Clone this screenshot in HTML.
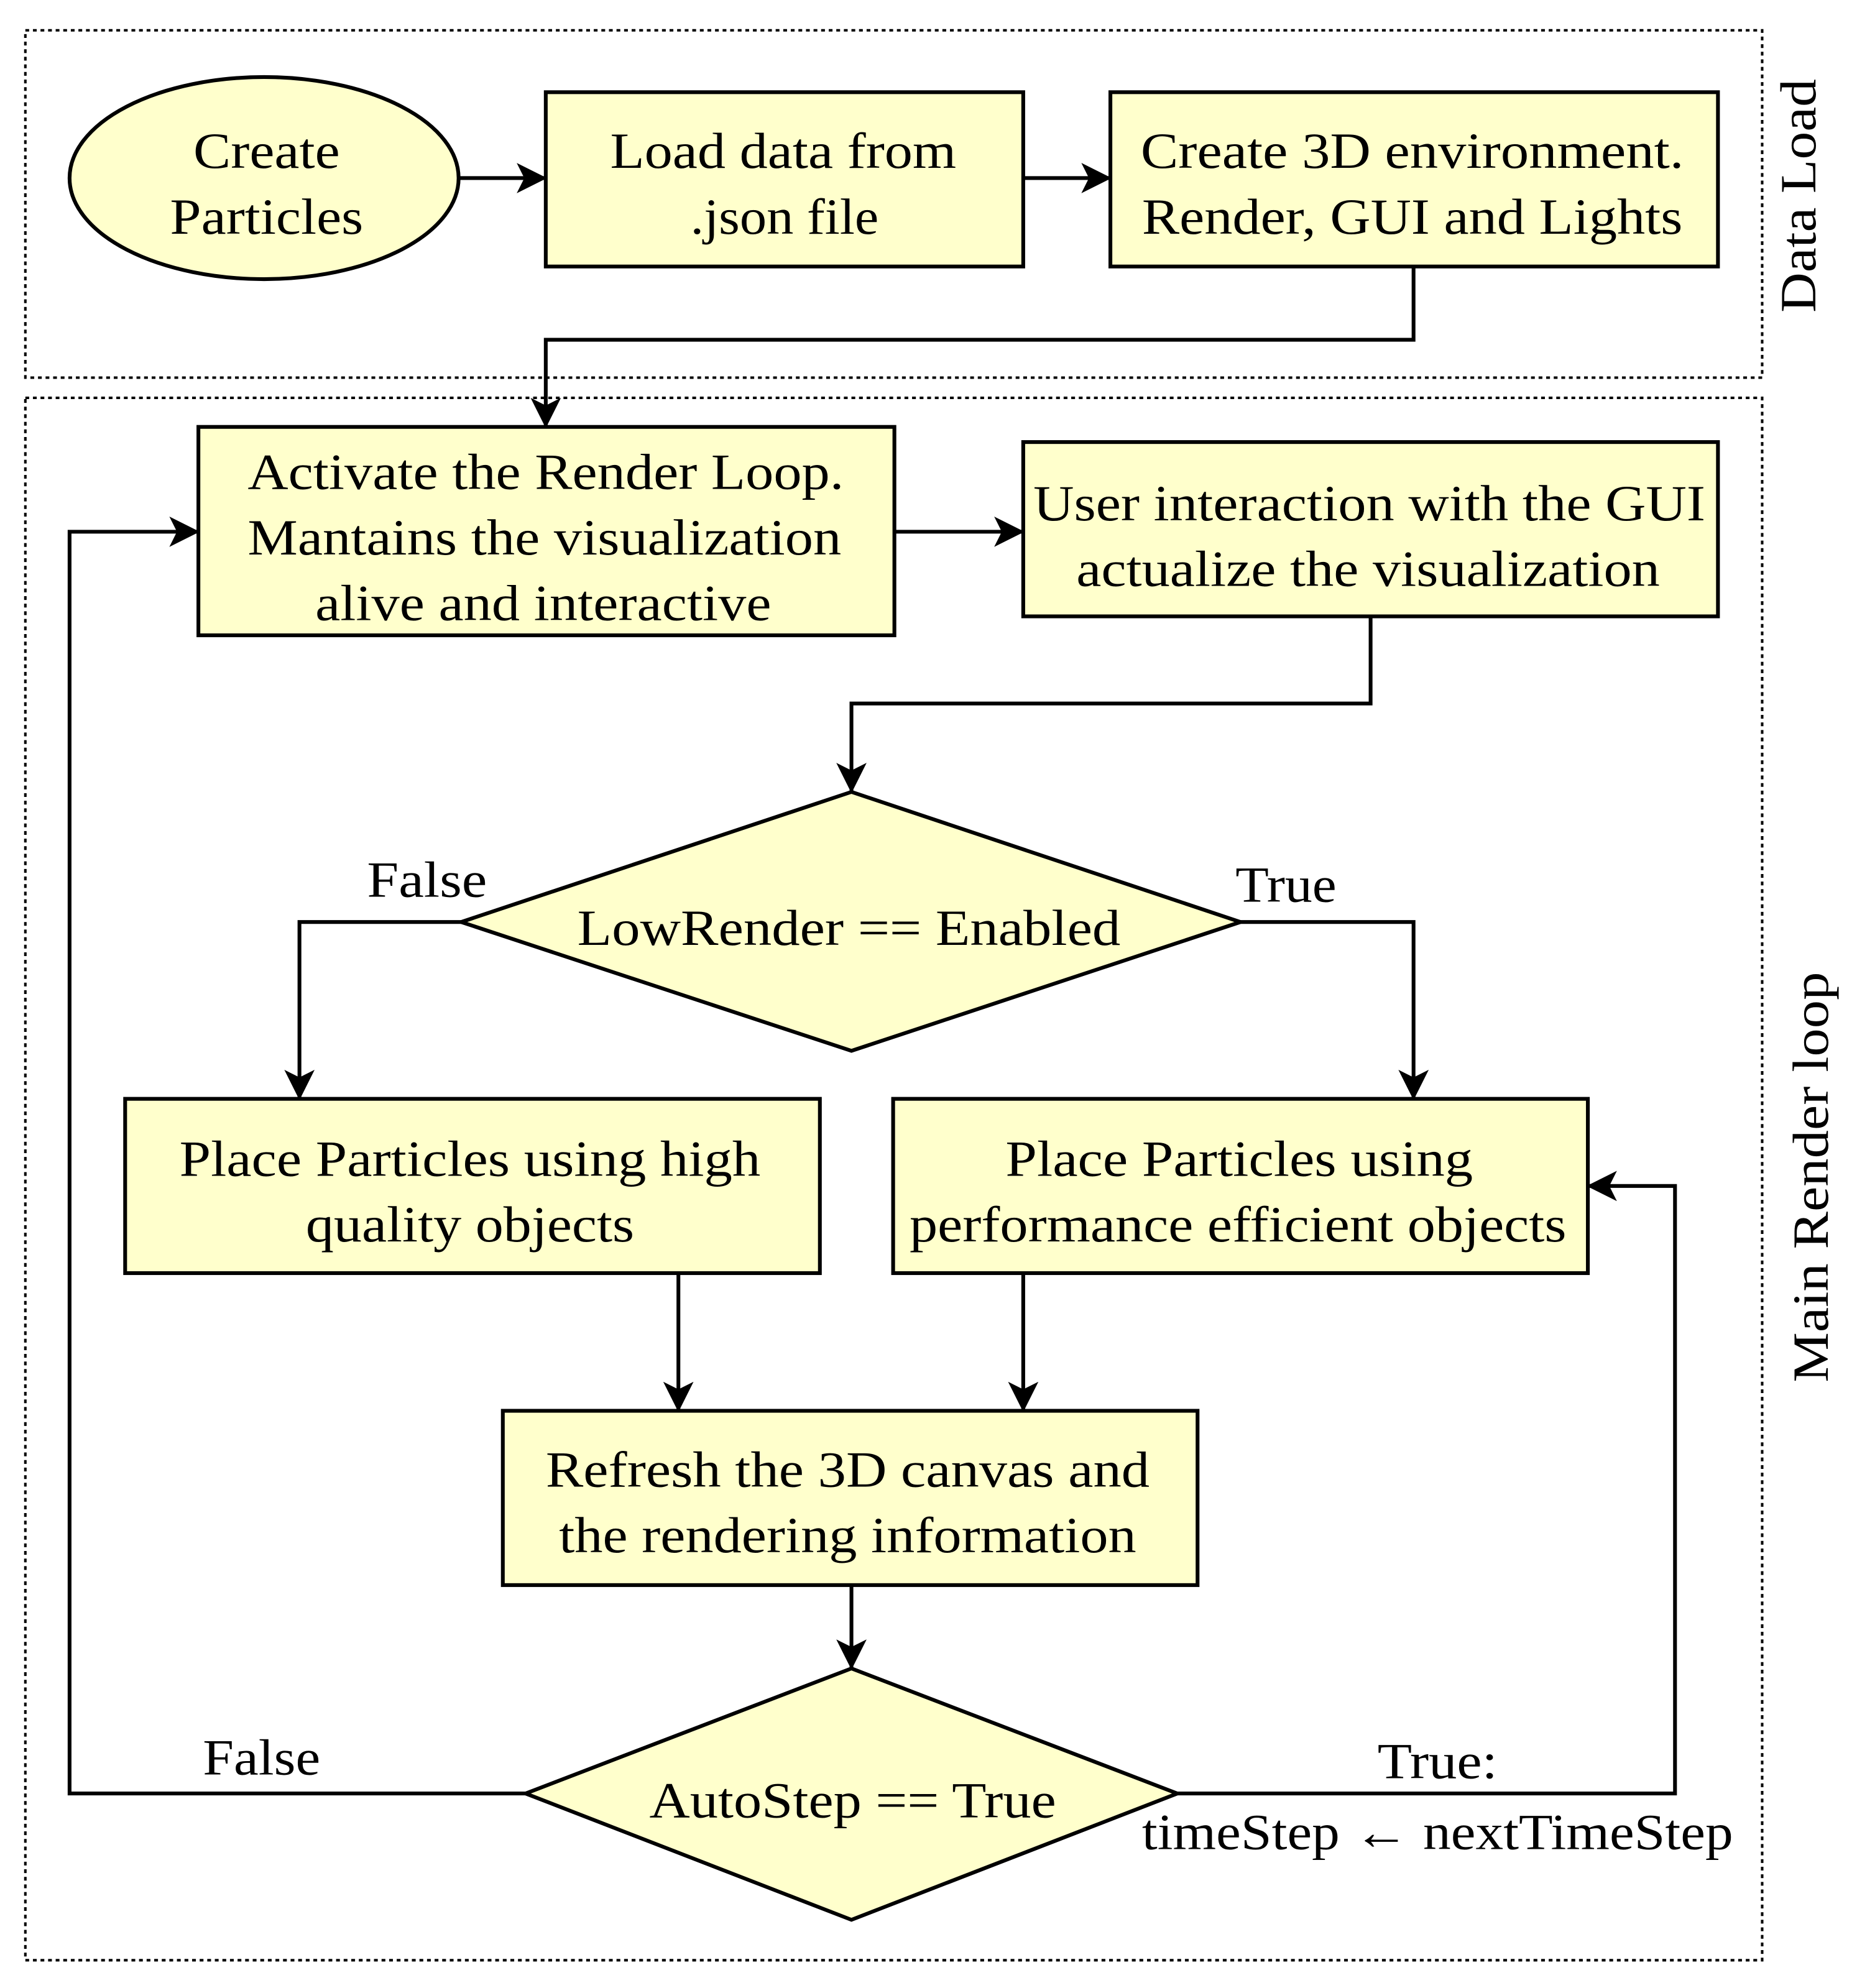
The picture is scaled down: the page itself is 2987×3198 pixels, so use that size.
<!DOCTYPE html>
<html><head><meta charset="utf-8"><style>
html,body{margin:0;padding:0;background:#fff;}
svg{display:block;}
text{font-family:"Liberation Serif","Times New Roman",serif;fill:#000;}
</style></head><body>
<svg width="2987" height="3198" viewBox="0 0 1470 1574" xmlns="http://www.w3.org/2000/svg">
<defs>
<marker id="ah" viewBox="0 0 24 24" refX="23" refY="12" markerWidth="24" markerHeight="24" markerUnits="userSpaceOnUse" orient="auto">
<path d="M0,0 L24,12 L0,24 L6,12 Z" fill="#000"/>
</marker>
</defs>
<rect width="1470" height="1574" fill="#fff"/>
<g fill="none" stroke="#000" stroke-width="2" stroke-dasharray="3,3">
<rect x="20" y="24" width="1375" height="275"/>
<rect x="20" y="315" width="1375" height="1237"/>
</g>
<g fill="#ffffcc" stroke="#000" stroke-width="3">
<ellipse cx="209" cy="141" rx="154" ry="80"/>
<rect x="432" y="73" width="378" height="138"/>
<rect x="879" y="73" width="481" height="138"/>
<rect x="157" y="338" width="551" height="165"/>
<rect x="810" y="350" width="550" height="138"/>
<polygon points="674,627 982,730 674,832 365,730"/>
<rect x="99" y="870" width="550" height="138"/>
<rect x="707" y="870" width="550" height="138"/>
<rect x="398" y="1117" width="550" height="138"/>
<polygon points="674,1321 932,1420 674,1520 416,1420"/>
</g>
<g fill="none" stroke="#000" stroke-width="3" marker-end="url(#ah)">
<path d="M363,141 H432"/>
<path d="M810,141 H879"/>
<path d="M1119,211 V269 H432 V338"/>
<path d="M708,421 H810"/>
<path d="M1085,488 V557 H674 V627"/>
<path d="M365,730 H237 V870"/>
<path d="M982,730 H1119 V870"/>
<path d="M537,1008 V1117"/>
<path d="M810,1008 V1117"/>
<path d="M674,1255 V1321"/>
<path d="M416,1420 H55 V421 H157"/>
<path d="M932,1420 H1326 V939 H1257"/>
</g>
<g font-size="40" text-anchor="middle" lengthAdjust="spacingAndGlyphs">
<text x="211" y="133" textLength="116" lengthAdjust="spacingAndGlyphs">Create</text>
<text x="211" y="185" textLength="153" lengthAdjust="spacingAndGlyphs">Particles</text>
<text x="620" y="133" textLength="274" lengthAdjust="spacingAndGlyphs">Load data from</text>
<text x="621" y="185" textLength="149" lengthAdjust="spacingAndGlyphs">.json file</text>
<text x="1118" y="133" textLength="430" lengthAdjust="spacingAndGlyphs">Create 3D environment.</text>
<text x="1118" y="185" textLength="428" lengthAdjust="spacingAndGlyphs">Render, GUI and Lights</text>
<text x="432" y="387" textLength="472" lengthAdjust="spacingAndGlyphs">Activate the Render Loop.</text>
<text x="431" y="439" textLength="470" lengthAdjust="spacingAndGlyphs">Mantains the visualization</text>
<text x="430" y="491" textLength="361" lengthAdjust="spacingAndGlyphs">alive and interactive</text>
<text x="1084" y="412" textLength="532" lengthAdjust="spacingAndGlyphs">User interaction with the GUI</text>
<text x="1083" y="464" textLength="462" lengthAdjust="spacingAndGlyphs">actualize the visualization</text>
<text x="672" y="748" textLength="430" lengthAdjust="spacingAndGlyphs">LowRender == Enabled</text>
<text x="338" y="710" textLength="95" lengthAdjust="spacingAndGlyphs">False</text>
<text x="1018" y="714" textLength="80" lengthAdjust="spacingAndGlyphs">True</text>
<text x="372" y="931" textLength="460" lengthAdjust="spacingAndGlyphs">Place Particles using high</text>
<text x="372" y="983" textLength="260" lengthAdjust="spacingAndGlyphs">quality objects</text>
<text x="981" y="931" textLength="370" lengthAdjust="spacingAndGlyphs">Place Particles using</text>
<text x="980" y="983" textLength="520" lengthAdjust="spacingAndGlyphs">performance efficient objects</text>
<text x="671" y="1177" textLength="478" lengthAdjust="spacingAndGlyphs">Refresh the 3D canvas and</text>
<text x="671" y="1229" textLength="457" lengthAdjust="spacingAndGlyphs">the rendering information</text>
<text x="675" y="1439" textLength="322" lengthAdjust="spacingAndGlyphs">AutoStep == True</text>
<text x="207" y="1405" textLength="93" lengthAdjust="spacingAndGlyphs">False</text>
<text x="1138" y="1408" textLength="95" lengthAdjust="spacingAndGlyphs">True:</text>
<text x="1138" y="1464" textLength="468" lengthAdjust="spacingAndGlyphs">timeStep ← nextTimeStep</text>
<text transform="translate(1437,155) rotate(-90)" textLength="185" lengthAdjust="spacingAndGlyphs">Data Load</text>
<text transform="translate(1447,932) rotate(-90)" textLength="325" lengthAdjust="spacingAndGlyphs">Main Render loop</text>
</g>
</svg>
</body></html>
